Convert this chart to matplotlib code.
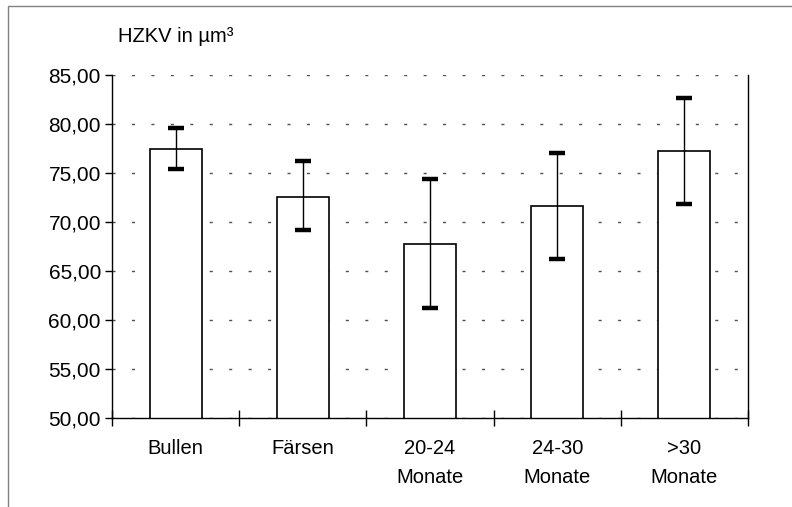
import matplotlib
matplotlib.use("Agg")
import matplotlib.pyplot as plt
from matplotlib.patches import Rectangle
from matplotlib.ticker import FuncFormatter
import numpy as np

plt.rcParams['font.family'] = ['Liberation Sans', 'DejaVu Sans']

categories = ["Bullen", "Färsen", "20-24\nMonate", "24-30\nMonate", ">30\nMonate"]
means = [77.45, 72.60, 67.80, 71.65, 77.25]
err_up = [2.15, 3.60, 6.60, 5.40, 5.40]
err_down = [2.05, 3.40, 6.60, 5.45, 5.40]
yticks = [50, 55, 60, 65, 70, 75, 80, 85]

fig = plt.figure(figsize=(7.92, 5.07), dpi=100)
ax = fig.add_axes([112 / 792, 1 - 418 / 507, 636 / 792, 343 / 507])

# outer chart frame (only top and left edge visible)
fig.patches.append(Rectangle((8 / 792, -0.1), 1.2, 1 - 6 / 507 + 0.1,
                             transform=fig.transFigure, fill=False,
                             edgecolor='#808080', linewidth=1.0))

x = np.arange(len(categories))
ax.bar(x, means, width=0.41, bottom=0, color='white', edgecolor='black',
       linewidth=1.2, zorder=2)
ax.errorbar(x, means, yerr=[err_down, err_up], fmt='none', ecolor='black',
            elinewidth=1.0, capsize=5.8, capthick=3.2, zorder=3)

ax.set_ylim(50, 85)
ax.set_xlim(-0.5, len(categories) - 0.5)
ax.set_yticks(yticks)
ax.yaxis.set_major_formatter(FuncFormatter(lambda v, p: f"{v:.2f}".replace('.', ',')))
for v in yticks:
    ax.axhline(v, color='#505050', linewidth=1.0, dashes=(2.2, 11.8), zorder=1)

ax.set_xticks(x)
ax.set_xticklabels(categories, linespacing=1.65, va='top')
ax.set_xticks(np.arange(len(categories) + 1) - 0.5, minor=True)
ax.tick_params(axis='x', which='major', length=0, pad=15, labelsize=14.5)
ax.tick_params(axis='x', which='minor', direction='inout', length=12, width=1.0)
ax.tick_params(axis='y', direction='out', length=5, width=1.0, labelsize=15, pad=3)

ax.spines['top'].set_visible(False)
for s in ['left', 'right', 'bottom']:
    ax.spines[s].set_linewidth(1.0)

fig.text(118 / 792, 1 - 36 / 507, "HZKV in µm³", fontsize=14.5, va='center', ha='left')

fig.savefig('out.png', dpi=100)
